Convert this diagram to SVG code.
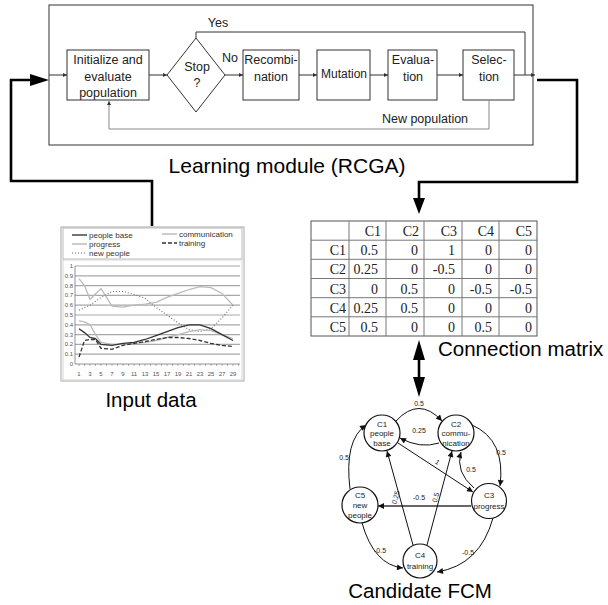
<svg xmlns="http://www.w3.org/2000/svg" width="608" height="605" viewBox="0 0 608 605">
<style>
.bx{fill:#fff;stroke:#333;stroke-width:1}
.fl{fill:none;stroke:#333;stroke-width:1}
.t{font-family:"Liberation Sans",Arial,sans-serif;fill:#222}
.fs{font-size:12.5px;text-anchor:middle}
.big{font-size:20.5px;fill:#000}
.thick{fill:none;stroke:#000;stroke-width:2.6}
.grid{stroke:#a8a8a8;stroke-width:1.2}
.ax{font-family:"Liberation Sans",Arial,sans-serif;font-size:6px;fill:#555}
.lg{font-family:"Liberation Sans",Arial,sans-serif;font-size:8px;fill:#333}
.m{font-family:"Liberation Serif","Times New Roman",serif;font-size:14px;fill:#222;text-anchor:end}
.ml{stroke:#777;stroke-width:1}
.nd{fill:#fff;stroke:#111;stroke-width:1.2}
.nt{font-family:"Liberation Sans",Arial,sans-serif;font-size:8px;fill:#222;text-anchor:middle}
.ed{fill:none;stroke:#111;stroke-width:1}
.el{font-family:"Liberation Sans",Arial,sans-serif;font-size:7px;fill:#222;text-anchor:middle}
</style>
<defs>
<marker id="fa" viewBox="0 0 10 10" refX="10" refY="5" markerWidth="5" markerHeight="4" orient="auto" markerUnits="userSpaceOnUse"><path d="M0,0 L10,5 L0,10 z" fill="#333"/></marker>
<marker id="ea" viewBox="0 0 10 10" refX="10" refY="5" markerWidth="7" markerHeight="6" orient="auto" markerUnits="userSpaceOnUse"><path d="M0,0 L10,5 L0,10 z" fill="#111"/></marker>
</defs>

<!-- Learning module -->
<g id="learning-module">
<rect x="49" y="5" width="484" height="140" fill="#fff" stroke="#333" stroke-width="1"/>
<text class="t big" x="287" y="173" text-anchor="middle" style="font-size:21px">Learning module (RCGA)</text>
</g>
<g id="init">
<rect class="bx" x="67" y="50" width="82" height="50"/>
<text class="t fs" x="108" y="64">Initialize and</text>
<text class="t fs" x="108" y="81">evaluate</text>
<text class="t fs" x="108" y="97">population</text>
</g>
<g id="stop">
<polygon class="bx" points="196,38 225,75 196,112 167,75"/>
<text class="t fs" x="197" y="71">Stop</text>
<text class="t fs" x="197" y="87">?</text>
</g>
<g id="recomb">
<rect class="bx" x="243" y="50" width="56" height="50"/>
<text class="t fs" x="271" y="64">Recombi-</text>
<text class="t fs" x="271" y="81">nation</text>
</g>
<g id="mutation">
<rect class="bx" x="317" y="50" width="53" height="50"/>
<text class="t fs" x="344" y="78" style="font-size:12px">Mutation</text>
</g>
<g id="evaluation">
<rect class="bx" x="388" y="50" width="49" height="50"/>
<text class="t fs" x="413" y="64">Evalua-</text>
<text class="t fs" x="413" y="81">tion</text>
</g>
<g id="selection">
<rect class="bx" x="463" y="50" width="51" height="50"/>
<text class="t fs" x="489" y="64">Selec-</text>
<text class="t fs" x="489" y="81">tion</text>
</g>

<!-- Input data chart -->
<g id="input-data">
<rect x="61" y="227" width="183" height="154" fill="#fff" stroke="#aaa" stroke-width="1"/>
<rect x="63" y="228" width="179" height="31" fill="#fff" stroke="#aaa" stroke-width="0.8"/>
<rect x="63" y="260" width="179" height="120" fill="#fff" stroke="#ccc" stroke-width="0.8"/>
<line x1="72" y1="235" x2="87" y2="235" stroke="#444" stroke-width="1.5"/>
<text class="lg" x="89" y="238">people base</text>
<line x1="72" y1="244" x2="87" y2="244" stroke="#bbb" stroke-width="1.5"/>
<text class="lg" x="89" y="247">progress</text>
<line x1="72" y1="253" x2="87" y2="253" stroke="#666" stroke-width="1.2" stroke-dasharray="1,2"/>
<text class="lg" x="89" y="256">new people</text>
<line x1="162" y1="234" x2="177" y2="234" stroke="#bbb" stroke-width="1.5"/>
<text class="lg" x="179" y="237">communication</text>
<line x1="162" y1="243" x2="177" y2="243" stroke="#333" stroke-width="1.5" stroke-dasharray="4,2"/>
<text class="lg" x="179" y="246">training</text>
<g class="grid">
<line x1="75" y1="266" x2="240" y2="266"/>
<line x1="75" y1="275.8" x2="240" y2="275.8"/>
<line x1="75" y1="285.6" x2="240" y2="285.6"/>
<line x1="75" y1="295.4" x2="240" y2="295.4"/>
<line x1="75" y1="305.2" x2="240" y2="305.2"/>
<line x1="75" y1="315" x2="240" y2="315"/>
<line x1="75" y1="324.8" x2="240" y2="324.8"/>
<line x1="75" y1="334.6" x2="240" y2="334.6"/>
<line x1="75" y1="344.4" x2="240" y2="344.4"/>
<line x1="75" y1="354.2" x2="240" y2="354.2"/>
</g>
<line x1="75" y1="364" x2="240" y2="364" stroke="#777" stroke-width="0.8"/>
<line x1="75" y1="266" x2="75" y2="364" stroke="#777" stroke-width="0.8"/>
<path d="M79,364v2M90,364v2M101,364v2M112,364v2M123,364v2M134,364v2M145,364v2M156,364v2M167,364v2M178,364v2M189,364v2M200,364v2M211,364v2M222,364v2M233,364v2M84.5,364v2M95.5,364v2M106.5,364v2M117.5,364v2M128.5,364v2M139.5,364v2M150.5,364v2M161.5,364v2M172.5,364v2M183.5,364v2M194.5,364v2M205.5,364v2M216.5,364v2M227.5,364v2M238.5,364v2" stroke="#777" stroke-width="0.6"/>
<g class="ax" text-anchor="end">
<text x="73" y="268">1</text>
<text x="73" y="277.8">0.9</text>
<text x="73" y="287.6">0.8</text>
<text x="73" y="297.4">0.7</text>
<text x="73" y="307.2">0.6</text>
<text x="73" y="317">0.5</text>
<text x="73" y="326.8">0.4</text>
<text x="73" y="336.6">0.3</text>
<text x="73" y="346.4">0.2</text>
<text x="73" y="356.2">0.1</text>
<text x="73" y="366">0</text>
</g>
<g class="ax" text-anchor="middle">
<text x="79" y="376">1</text><text x="90" y="376">3</text><text x="101" y="376">5</text><text x="112" y="376">7</text><text x="123" y="376">9</text><text x="134" y="376">11</text><text x="145" y="376">13</text><text x="156" y="376">15</text><text x="167" y="376">17</text><text x="178" y="376">19</text><text x="189" y="376">21</text><text x="200" y="376">23</text><text x="211" y="376">25</text><text x="222" y="376">27</text><text x="233" y="376">29</text>
</g>
<polyline fill="none" stroke="#bbb" stroke-width="1.3" points="79,278.7 84.5,285.6 90,299.3 101,288.5 106.5,297.4 112,306.2 123,307.2 134,305.2 145,304.2 156,302.3 167,297.4 178,293.4 189,289.5 200,286.6 211,287.6 222,293.4 233,305.2"/>
<polyline fill="none" stroke="#777" stroke-width="1.2" stroke-dasharray="1,2" points="79,310.1 90,305.2 101,297.4 112,291.5 123,291.5 134,294.4 145,298.3 156,307.2 167,315 178,322.8 189,329.7 200,331.7 211,328.7 222,317.9 233,305.2"/>
<polyline fill="none" stroke="#bbb" stroke-width="1.3" points="79,320.9 84.5,321.9 90,324.8 95.5,334.6 101,342.4 112,344.4 123,344.4 134,343.4 145,342.4 156,340.5 167,337.5 178,334.6 189,331.7 200,329.7 211,330.7 222,334.6 233,338.5"/>
<polyline fill="none" stroke="#333" stroke-width="1.3" points="79,328.7 84.5,332.6 90,337.5 95.5,338.5 101,344.4 112,345.4 123,343.4 134,342.4 145,339.5 156,335.6 167,331.7 178,327.7 189,324.8 200,324.8 211,328.7 222,334.6 233,340.5"/>
<polyline fill="none" stroke="#333" stroke-width="1.3" stroke-dasharray="4,2" points="79,357.1 84.5,340.5 90,339.5 95.5,339.5 101,348.3 112,349.3 123,345.4 134,343.4 145,341.5 156,339.5 167,337.5 178,337.5 189,338.5 200,340.5 211,343.4 222,345.4 233,346.4"/>
<text class="t big" x="151" y="407" text-anchor="middle">Input data</text>
</g>

<!-- Connection matrix -->
<g id="connection-matrix">
<rect x="311" y="221" width="226" height="115" fill="#fff" stroke="#555" stroke-width="1"/>
<g class="ml">
<line x1="349" y1="221" x2="349" y2="336"/>
<line x1="386" y1="221" x2="386" y2="336"/>
<line x1="424" y1="221" x2="424" y2="336"/>
<line x1="462" y1="221" x2="462" y2="336"/>
<line x1="499" y1="221" x2="499" y2="336"/>
<line x1="311" y1="240.2" x2="537" y2="240.2"/>
<line x1="311" y1="259.3" x2="537" y2="259.3"/>
<line x1="311" y1="278.5" x2="537" y2="278.5"/>
<line x1="311" y1="297.7" x2="537" y2="297.7"/>
<line x1="311" y1="316.8" x2="537" y2="316.8"/>
</g>
<text class="m" x="381" y="236">C1</text><text class="m" x="419" y="236">C2</text><text class="m" x="457" y="236">C3</text><text class="m" x="494" y="236">C4</text><text class="m" x="532" y="236">C5</text>
<text class="m" x="346" y="255">C1</text><text class="m" x="378" y="255">0.5</text><text class="m" x="418" y="255">0</text><text class="m" x="455" y="255">1</text><text class="m" x="492" y="255">0</text><text class="m" x="532" y="255">0</text>
<text class="m" x="346" y="274.3">C2</text><text class="m" x="378" y="274.3">0.25</text><text class="m" x="418" y="274.3">0</text><text class="m" x="455" y="274.3">-0.5</text><text class="m" x="492" y="274.3">0</text><text class="m" x="532" y="274.3">0</text>
<text class="m" x="346" y="293.5">C3</text><text class="m" x="378" y="293.5">0</text><text class="m" x="418" y="293.5">0.5</text><text class="m" x="455" y="293.5">0</text><text class="m" x="492" y="293.5">-0.5</text><text class="m" x="532" y="293.5">-0.5</text>
<text class="m" x="346" y="312.7">C4</text><text class="m" x="378" y="312.7">0.25</text><text class="m" x="418" y="312.7">0.5</text><text class="m" x="455" y="312.7">0</text><text class="m" x="492" y="312.7">0</text><text class="m" x="532" y="312.7">0</text>
<text class="m" x="346" y="331.8">C5</text><text class="m" x="378" y="331.8">0.5</text><text class="m" x="418" y="331.8">0</text><text class="m" x="455" y="331.8">0</text><text class="m" x="492" y="331.8">0.5</text><text class="m" x="532" y="331.8">0</text>
<text class="t big" x="438" y="356">Connection matrix</text>
</g>

<!-- FCM nodes -->
<g id="C1"><circle class="nd" cx="382" cy="433" r="18"/><text class="nt" x="382" y="427">C1</text><text class="nt" x="382" y="436">people</text><text class="nt" x="382" y="446">base</text></g>
<g id="C2"><circle class="nd" cx="456" cy="433" r="18"/><text class="nt" x="456" y="427">C2</text><text class="nt" x="456" y="436">commu-</text><text class="nt" x="456" y="446">nication</text></g>
<g id="C3"><circle class="nd" cx="489" cy="501" r="17.5"/><text class="nt" x="489" y="498">C3</text><text class="nt" x="489" y="509">progress</text></g>
<g id="C5"><circle class="nd" cx="360" cy="505" r="18"/><text class="nt" x="360" y="498">C5</text><text class="nt" x="360" y="508">new</text><text class="nt" x="360" y="518">people</text></g>
<g id="C4"><circle class="nd" cx="420" cy="561" r="17"/><text class="nt" x="420" y="558">C4</text><text class="nt" x="420" y="569">training</text></g>
<text class="t big" x="420" y="598" text-anchor="middle">Candidate FCM</text>

<!-- Connectors -->
<g id="connectors">
<line class="fl" x1="49" y1="75" x2="67" y2="75" marker-end="url(#fa)"/>
<line class="fl" x1="149" y1="75" x2="167" y2="75" marker-end="url(#fa)"/>
<line class="fl" x1="225" y1="75" x2="243" y2="75" marker-end="url(#fa)"/>
<line class="fl" x1="299" y1="75" x2="317" y2="75" marker-end="url(#fa)"/>
<line class="fl" x1="370" y1="75" x2="388" y2="75" marker-end="url(#fa)"/>
<line class="fl" x1="437" y1="75" x2="463" y2="75" marker-end="url(#fa)"/>
<line class="fl" x1="514" y1="75" x2="535" y2="75" marker-end="url(#fa)"/>
<polyline class="fl" points="196,38 196,32 525,32 525,75"/>
<text class="t" x="218" y="27" text-anchor="middle" style="font-size:12.5px">Yes</text>
<text class="t" x="230" y="62" text-anchor="middle" style="font-size:12.5px">No</text>
<polyline fill="none" stroke="#888" stroke-width="1" points="489,100 489,129 109,129 109,101" marker-end="url(#fa)"/>
<text class="t" x="425" y="123" text-anchor="middle" style="font-size:12.5px">New population</text>

<polyline class="thick" points="152,226 152,181 11,181 11,80 32,80"/>
<polygon points="49,80 30,74 30,86" fill="#000"/>
<polyline class="thick" points="537,80 577,80 577,182 419,182 419,199"/>
<polygon points="419,214 413,198 425,198" fill="#000"/>
<line x1="419" y1="358" x2="419" y2="379" stroke="#000" stroke-width="2.6"/>
<polygon points="419,340 413,360 425,360" fill="#000"/>
<polygon points="419,397 413,377 425,377" fill="#000"/>

<path class="ed" d="M396,421 Q419,396 442,421" marker-end="url(#ea)"/>
<text class="el" x="419" y="406">0.5</text>
<path class="ed" d="M439,443 Q420,449 400,438" marker-end="url(#ea)"/>
<text class="el" x="419" y="433">0.25</text>
<line class="ed" x1="398" y1="443" x2="473" y2="492" marker-end="url(#ea)"/>
<text class="el" x="436" y="464" transform="rotate(34 436 464)">1</text>
<path class="ed" d="M472,425 Q506,440 500,486" marker-end="url(#ea)"/>
<text class="el" x="501" y="455">0.5</text>
<path class="ed" d="M474,488 Q455,472 461,452" marker-end="url(#ea)"/>
<text class="el" x="471" y="472">0.5</text>
<line x1="471" y1="506" x2="378" y2="506" stroke="#333" stroke-width="1.5" marker-end="url(#ea)"/>
<text class="el" x="419" y="500">-0.5</text>
<line class="ed" x1="413" y1="545" x2="387" y2="451" marker-end="url(#ea)"/>
<text class="el" x="398" y="498" transform="rotate(-75 398 498)">0.25</text>
<line class="ed" x1="427" y1="545" x2="452" y2="451" marker-end="url(#ea)"/>
<text class="el" x="438" y="498" transform="rotate(-75 438 498)">0.5</text>
<path class="ed" d="M350,489 Q344,440 366,425" marker-end="url(#ea)"/>
<text class="el" x="344" y="460">0.5</text>
<path class="ed" d="M362,523 Q374,565 403,568" marker-end="url(#ea)"/>
<text class="el" x="380" y="553">-0.5</text>
<path class="ed" d="M493,518 Q480,565 437,572" marker-end="url(#ea)"/>
<text class="el" x="468" y="555">-0.5</text>
</g>
</svg>
